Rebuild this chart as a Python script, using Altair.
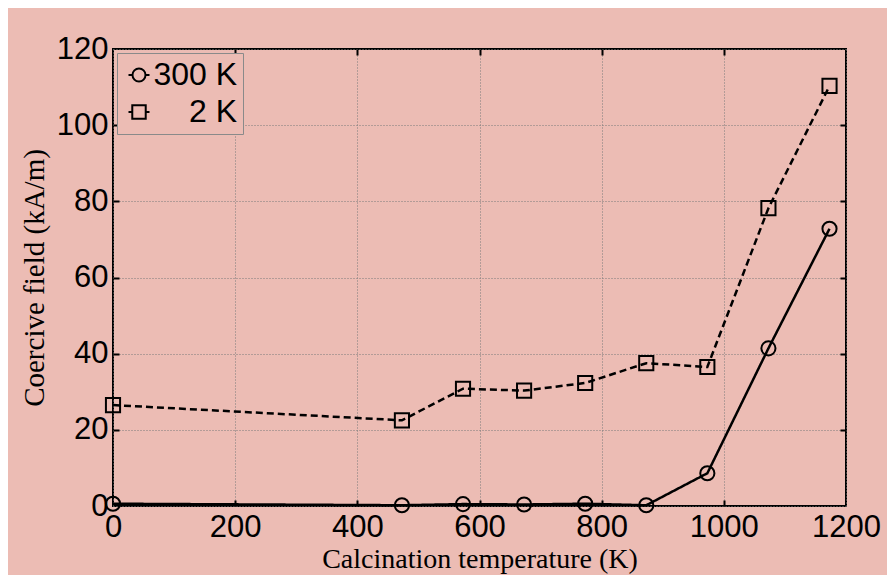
import altair as alt
import pandas as pd

temps = [0, 473, 573, 673, 773, 873, 973, 1073, 1173]
hc_300K = [0.6, 0.2, 0.5, 0.4, 0.6, 0.2, 8.6, 41.4, 72.8]
hc_2K = [26.5, 22.5, 30.8, 30.3, 32.3, 37.5, 36.5, 78.2, 110.3]
series = ["300 K", "2 K"]
x_ticks = [0, 200, 400, 600, 800, 1000, 1200]
y_ticks = [0, 20, 40, 60, 80, 100, 120]

rows = []
for t, v in zip(temps, hc_300K):
    rows.append({"T": t, "H": v, "s": series[0]})
for t, v in zip(temps, hc_2K):
    rows.append({"T": t, "H": v, "s": series[1]})
df = pd.DataFrame(rows)

BG = "#ecbcb4"
SANS = "Liberation Sans"
SERIF = "Liberation Serif"

xs = alt.Scale(domain=[0, 1200], nice=False, zero=False)
ys = alt.Scale(domain=[0, 120], nice=False, zero=False)

x_main = alt.X("T:Q", scale=xs, axis=alt.Axis(
    values=x_ticks, format="d", grid=True, ticks=False, domain=False,
    labelFont=SANS, labelFontSize=31, labelColor="black", labelPadding=6,
    labelFlush=False, labelOverlap=False,
    title="Calcination temperature (K)", titleFont=SERIF, titleFontSize=28,
    titleFontWeight="normal", titleColor="black", titleBaseline="alphabetic",
    titleY=61,
    gridColor="#7a7a7a", gridDash=[1, 2], gridWidth=1, gridOpacity=1))
y_main = alt.Y("H:Q", scale=ys, axis=alt.Axis(
    values=y_ticks, format="d", grid=True, ticks=False, domain=False,
    labelFont=SANS, labelFontSize=31, labelColor="black", labelPadding=5,
    labelFlush=False, labelOverlap=False,
    title="Coercive field (kA/m)", titleFont=SERIF, titleFontSize=29,
    titleFontWeight="normal", titleColor="black", titleBaseline="alphabetic",
    titleX=-70,
    gridColor="#7a7a7a", gridDash=[1, 2], gridWidth=1, gridOpacity=1))

base = alt.Chart(df)

lines = base.mark_line(color="black", strokeWidth=2.5).encode(
    x=x_main, y=y_main,
    strokeDash=alt.StrokeDash("s:N", scale=alt.Scale(domain=series, range=[[1, 0], [7, 4]]), legend=None),
    detail="s:N",
)

points = base.mark_point(filled=False, color="black", strokeWidth=2, size=200, opacity=1).encode(
    x=alt.X("T:Q", scale=xs, axis=None), y=alt.Y("H:Q", scale=ys, axis=None),
    shape=alt.Shape("s:N", scale=alt.Scale(domain=series, range=["circle", "square"]), legend=None),
)

circle_leg = "M-1,0H-0.62A0.62,0.62 0 1 1 0.62,0H1M0.62,0A0.62,0.62 0 1 1 -0.62,0"
square_leg = "M-1,0H-0.64M-0.64,-0.64H0.64V0.64H-0.64ZM0.64,0H1"

legend_layer = base.transform_filter("false").mark_point(
    filled=False, color="black", strokeWidth=2, opacity=1, size=441).encode(
    x=alt.X("T:Q", scale=xs, axis=None), y=alt.Y("H:Q", scale=ys, axis=None),
    shape=alt.Shape("s:N", scale=alt.Scale(domain=series, range=[circle_leg, square_leg]),
                    legend=alt.Legend(
                        title=None, orient="none", legendX=4, legendY=4,
                        labelFont=SANS, labelFontSize=32, labelColor="black",
                        labelAlign="right", labelOffset=82,
                        symbolSize=441, symbolStrokeWidth=2, symbolStrokeColor="black",
                        symbolFillColor="transparent", symbolOpacity=1,
                        padding=6, rowPadding=5,
                        strokeColor="#8a8a8a", fillColor=BG,
                    )),
)

def tick_layer(xorient, yorient):
    return base.mark_point(opacity=0).encode(
        x=alt.X("T:Q", scale=xs, axis=alt.Axis(
            orient=xorient, offset=-6, values=x_ticks[1:-1], labels=False, domain=False,
            grid=False, ticks=True, tickSize=6, tickWidth=2, tickColor="black", title=None)),
        y=alt.Y("H:Q", scale=ys, axis=alt.Axis(
            orient=yorient, offset=-6, values=y_ticks[1:-1], labels=False, domain=False,
            grid=False, ticks=True, tickSize=6, tickWidth=2, tickColor="black", title=None)),
    )

chart = alt.layer(
    lines, points, legend_layer, tick_layer("bottom", "left"), tick_layer("top", "right")
).resolve_axis(x="independent", y="independent").resolve_scale(shape="independent").properties(
    width=733, height=457,
    autosize=alt.AutoSizeParams(type="none"),
    padding={"left": 105, "top": 41, "right": 41, "bottom": 69},
).configure(background=BG).configure_view(stroke="black", strokeWidth=2)

chart.save("out.html", embed_options={"renderer": "svg", "actions": False})
